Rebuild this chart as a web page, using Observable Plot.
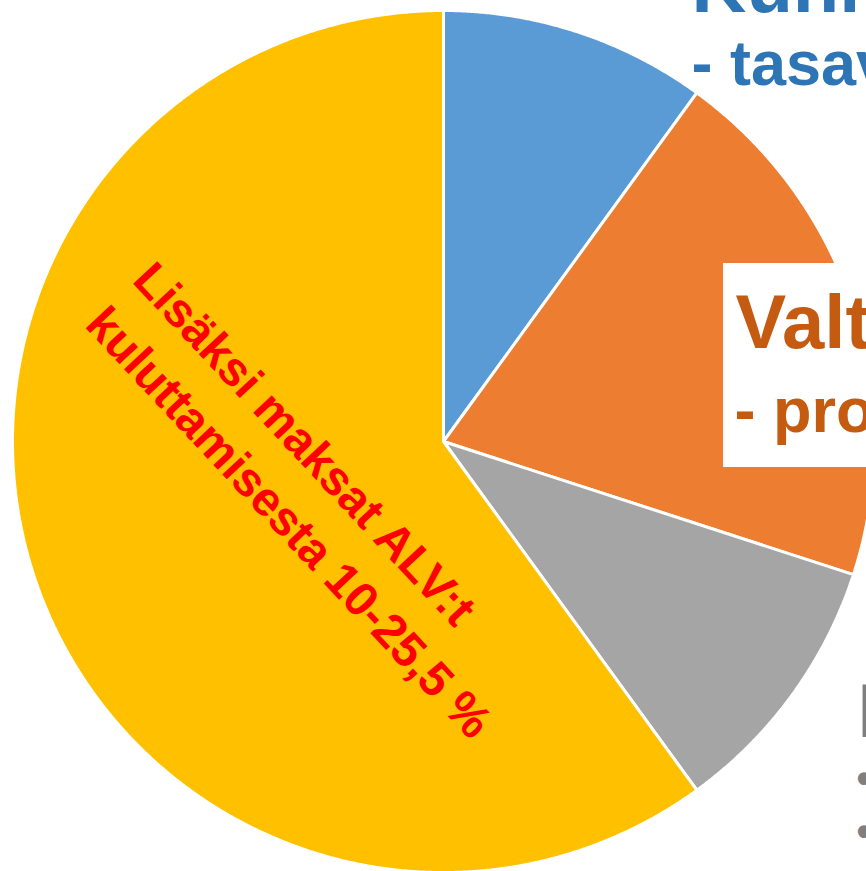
<!DOCTYPE html>
<html>
<head>
<meta charset="utf-8">
<script src="https://cdn.jsdelivr.net/npm/d3@7"></script>
<script src="https://cdn.jsdelivr.net/npm/@observablehq/plot@0.6"></script>
<style>
  html, body { margin: 0; padding: 0; overflow: hidden; background: #fff; }
  #chart svg { display: block; }
</style>
</head>
<body>
<div id="chart"></div>
<script>
// ---- data ----
const sliceNames = ["Kunnallisvero", "Valtionvero", "Palkansaajamaksut", "Käteen jäävä palkka"];
const sliceShares = [10, 20, 10, 60];
const sliceColors = ["#5B9BD5", "#ED7D31", "#A5A5A5", "#FFC000"];

const kuntaLines = ["Kunnallisvero", "- tasavero"];
const valtioLines = ["Valtionvero", "- progressiivinen"];
const maksuLines = ["Palkansaajamaksut", "• työeläkemaksu", "• työttömyysvakuutusmaksu"];
const alvLines = ["Lisäksi maksat ALV:t", "kuluttamisesta 10-25,5 %"];

// ---- build slice outlines (angles clockwise from the top) ----
const total = d3.sum(sliceShares);
let acc = 0;
const slices = sliceShares.map((v, i) => {
  const a0 = acc / total * 2 * Math.PI;
  acc += v;
  const a1 = acc / total * 2 * Math.PI;
  const n = Math.max(2, Math.ceil((a1 - a0) / (Math.PI / 720)));
  const pts = [{x: 0, y: 0}];
  for (let k = 0; k <= n; k++) {
    const a = a0 + (a1 - a0) * k / n;
    pts.push({x: Math.sin(a), y: Math.cos(a)});
  }
  pts.push({x: 0, y: 0});
  return {name: sliceNames[i], color: sliceColors[i], points: pts};
});

const font = "Liberation Sans, Arial, Helvetica, sans-serif";
const txt = (s, x, y, size, color, extra = {}) =>
  Plot.text([s], {x: () => x, y: () => y, text: d => d, fontSize: size, fill: color,
    fontWeight: "bold", fontFamily: font, textAnchor: "start", lineAnchor: "bottom", ...extra});

const chart = Plot.plot({
  width: 866,
  height: 871,
  margin: 0,
  x: {domain: [-1, 1], range: [12, 874], axis: null},
  y: {domain: [-1, 1], range: [872, 10], axis: null},
  marks: [
    ...slices.map(s => Plot.line(s.points, {x: "x", y: "y", fill: s.color, stroke: "white", strokeWidth: 3, strokeLinejoin: "miter"})),
    // white box behind the state-tax label
    Plot.rect([0], {x1: 0.6497, x2: 1.4, y1: -0.0603, y2: 0.413, fill: "white"}),
    txt(kuntaLines[0], 0.5754, 0.9954, 76, "#2E75B6"),
    txt(kuntaLines[1], 0.5754, 0.8260, 63, "#2E75B6"),
    txt(valtioLines[0], 0.6775, 0.2158, 76, "#C55A11"),
    txt(valtioLines[1], 0.6752, 0.0209, 63, "#C55A11"),
    txt(maksuLines[0], 0.9606, -0.6845, 76, "#7F7F7F"),
    txt(maksuLines[1], 0.9582, -0.8167, 44, "#7F7F7F"),
    txt(maksuLines[2], 0.9582, -0.9374, 44, "#7F7F7F"),
    txt(alvLines[0], -0.7251, 0.3715, 48, "#FF0000", {rotate: 47}),
    txt(alvLines[1], -0.8353, 0.2687, 48, "#FF0000", {rotate: 47})
  ]
});
document.getElementById("chart").appendChild(chart);
</script>
</body>
</html>
